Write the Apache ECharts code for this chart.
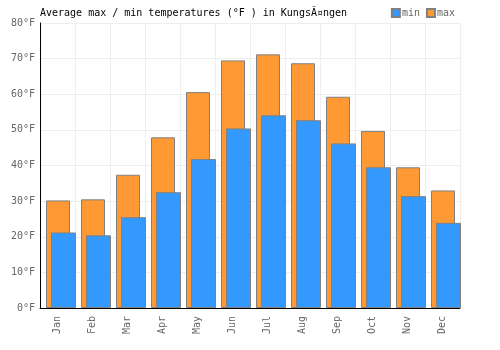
<!DOCTYPE html>
<html>
<head>
<meta charset="utf-8">
<script src="https://cdn.jsdelivr.net/npm/echarts@6/dist/echarts.min.js"></script>
<style>
    html, body { margin: 0; padding: 0; background: #fff; }
    #chart { width: 500px; height: 350px; }
</style>
</head>
<body>
<div id="chart"></div>
<script>
    // 月份和温度 (°F)
    var months = ['Jan', 'Feb', 'Mar', 'Apr', 'May', 'Jun', 'Jul', 'Aug', 'Sep', 'Oct', 'Nov', 'Dec'];
    var maxTemps = [30.2, 30.5, 37.4, 47.9, 60.6, 69.5, 71.2, 68.7, 59.3, 49.7, 39.5, 33.0];
    var minTemps = [21.2, 20.4, 25.5, 32.5, 41.8, 50.4, 54.1, 52.7, 46.2, 39.5, 31.4, 23.9];
    var yTicks = [0, 10, 20, 30, 40, 50, 60, 70, 80];

    var font = 'DejaVu Sans Mono';
    var chart = echarts.init(document.getElementById('chart'));
    chart.setOption({
        animation: false,
        title: {
            text: 'Average max / min temperatures (°F ) in KungsÃ¤ngen',
            left: 35,
            top: 3,
            textStyle: { fontFamily: font, fontSize: 10, fontWeight: 'normal', color: '#000' }
        },
        legend: {
            data: ['min', 'max'],
            right: 40,
            top: 3,
            itemWidth: 8,
            itemHeight: 8,
            itemGap: 6,
            icon: 'rect',
            textStyle: { fontFamily: font, fontSize: 10, color: '#666', padding: [0, 0, 0, -3] }
        },
        // grid 0: 坐标轴和网格线, grid 1: 柱子 (稍微右移)
        grid: [
            { left: 40, right: 40, top: 23, bottom: 42 },
            { left: 43.5, right: 36.5, top: 23, bottom: 42 }
        ],
        xAxis: [
            {
                type: 'category',
                gridIndex: 0,
                data: months,
                axisLine: { lineStyle: { color: '#000' } },
                axisTick: { show: false },
                axisLabel: { rotate: 90, color: '#666', fontFamily: font, fontSize: 10, margin: 8 },
                splitLine: { show: true, lineStyle: { color: '#eee' } }
            },
            {
                type: 'category',
                gridIndex: 1,
                data: months,
                show: false
            }
        ],
        yAxis: [
            {
                type: 'value',
                gridIndex: 0,
                min: yTicks[0],
                max: yTicks[yTicks.length - 1],
                interval: 10,
                axisLine: { show: true, lineStyle: { color: '#000' } },
                axisTick: { show: false },
                axisLabel: { formatter: '{value}°F', color: '#666', fontFamily: font, fontSize: 10, margin: 5 },
                splitLine: { lineStyle: { color: '#eee' } }
            },
            {
                type: 'value',
                gridIndex: 1,
                min: yTicks[0],
                max: yTicks[yTicks.length - 1],
                show: false
            }
        ],
        series: [
            {
                name: 'max',
                type: 'bar',
                xAxisIndex: 1,
                yAxisIndex: 1,
                data: maxTemps,
                barWidth: 24,
                barGap: '-79.17%',
                z: 2,
                itemStyle: { color: '#ff9933', borderColor: '#808080', borderWidth: 1 }
            },
            {
                name: 'min',
                type: 'bar',
                xAxisIndex: 1,
                yAxisIndex: 1,
                data: minTemps,
                barWidth: 25,
                z: 3,
                itemStyle: { color: '#3399ff', borderColor: '#808080', borderWidth: 1 }
            }
        ]
    });
</script>
</body>
</html>
